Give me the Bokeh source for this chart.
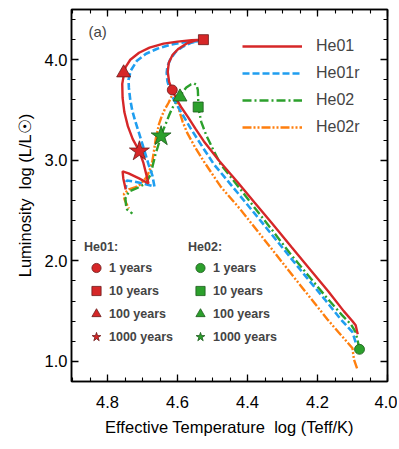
from bokeh.plotting import figure
from bokeh.models import (Range1d, LinearAxis, FixedTicker, Legend, LegendItem,
                          Label, PrintfTickFormatter, CustomLabelingPolicy)
from bokeh.embed import file_html
from bokeh.resources import INLINE

# ---------------- data (log Teff, log L) ----------------
he01_logT = [4.085, 4.091, 4.10, 4.125, 4.17, 4.22, 4.275, 4.329, 4.38, 4.43, 4.48,
             4.525, 4.548, 4.57, 4.588, 4.603, 4.615, 4.624, 4.628, 4.625, 4.614,
             4.597, 4.575, 4.55, 4.526, 4.56, 4.60, 4.64, 4.68, 4.71, 4.735, 4.748,
             4.753, 4.758, 4.757, 4.752, 4.742, 4.728, 4.709, 4.698, 4.69, 4.683,
             4.71, 4.74, 4.757, 4.755, 4.748]
he01_logL = [1.27, 1.36, 1.40, 1.50, 1.70, 1.91, 2.14, 2.37, 2.58, 2.79, 2.99,
             3.19, 3.31, 3.43, 3.52, 3.61, 3.70, 3.78, 3.88, 3.97, 4.05,
             4.11, 4.16, 4.19, 4.20, 4.195, 4.18, 4.16, 4.12, 4.07, 4.00, 3.93,
             3.86, 3.76, 3.62, 3.48, 3.34, 3.21, 3.09, 2.98, 2.87, 2.77,
             2.82, 2.87, 2.89, 2.82, 2.71]

he01r_logT = [4.091, 4.10, 4.134, 4.18, 4.23, 4.30, 4.363, 4.429, 4.496, 4.53, 4.563,
              4.59, 4.61, 4.622, 4.629, 4.631, 4.629, 4.62, 4.605, 4.585, 4.56, 4.542,
              4.58, 4.62, 4.658, 4.69, 4.716, 4.734, 4.74, 4.739, 4.735, 4.729, 4.72,
              4.71, 4.695, 4.683, 4.672, 4.666, 4.70, 4.725, 4.745, 4.748]
he01r_logL = [1.19, 1.29, 1.42, 1.62, 1.83, 2.13, 2.40, 2.68, 2.96, 3.14, 3.32,
              3.48, 3.60, 3.70, 3.79, 3.87, 3.93, 4.01, 4.08, 4.13, 4.17, 4.185,
              4.175, 4.15, 4.11, 4.06, 3.99, 3.89, 3.80, 3.72, 3.60, 3.49, 3.38,
              3.27, 3.10, 2.96, 2.85, 2.74, 2.77, 2.79, 2.80, 2.72]

he02_logT = [4.08, 4.085, 4.091, 4.105, 4.13, 4.18, 4.23, 4.28, 4.326, 4.36, 4.40,
             4.44, 4.477, 4.50, 4.518, 4.532, 4.541, 4.541, 4.542, 4.546, 4.553,
             4.562, 4.575, 4.587, 4.593, 4.605, 4.615, 4.625, 4.634, 4.641, 4.647,
             4.655, 4.663, 4.67, 4.677, 4.686, 4.696, 4.718, 4.739, 4.749, 4.747,
             4.744, 4.729]
he02_logL = [1.12, 1.20, 1.29, 1.37, 1.46, 1.66, 1.87, 2.08, 2.29, 2.44, 2.62,
             2.80, 2.96, 3.12, 3.25, 3.38, 3.53, 3.62, 3.70, 3.75, 3.765,
             3.755, 3.725, 3.67, 3.63, 3.575, 3.52, 3.44, 3.36, 3.30, 3.24,
             3.15, 3.06, 2.96, 2.86, 2.80, 2.76, 2.72, 2.69, 2.62, 2.55,
             2.51, 2.47]

he02r_logT = [4.087, 4.096, 4.10, 4.115, 4.14, 4.172, 4.22, 4.268, 4.32, 4.37, 4.42,
              4.477, 4.525, 4.55, 4.572, 4.585, 4.594, 4.60, 4.605, 4.611,
              4.618, 4.626, 4.636, 4.645, 4.653, 4.658, 4.662, 4.667, 4.672, 4.68,
              4.687, 4.706, 4.722, 4.739, 4.753, 4.752, 4.749, 4.739]
he02r_logL = [0.93, 1.02, 1.13, 1.19, 1.29, 1.42, 1.63, 1.84, 2.07, 2.29, 2.51,
              2.74, 2.99, 3.13, 3.27, 3.38, 3.48, 3.57, 3.64, 3.665,
              3.63, 3.57, 3.51, 3.44, 3.36, 3.28, 3.22, 3.10, 2.99, 2.90,
              2.84, 2.76, 2.73, 2.71, 2.67, 2.62, 2.59, 2.52]

ages = ["1 years", "10 years", "100 years", "1000 years"]
he01_mark_logT = [4.615, 4.526, 4.754, 4.709]
he01_mark_logL = [3.70, 4.20, 3.87, 3.09]
he02_mark_logT = [4.080, 4.541, 4.593, 4.647]
he02_mark_logL = [1.12, 3.53, 3.63, 3.24]

series_names = ["He01", "He01r", "He02", "He02r"]

x_major = [4.0, 4.2, 4.4, 4.6, 4.8]
x_minor = [round(4.0 + 0.05 * i, 2) for i in range(19)]
y_major = [1.0, 2.0, 3.0, 4.0]
y_minor = [round(0.8 + 0.2 * i, 1) for i in range(19)]

x_title = "Effective Temperature\u00a0\u00a0log (Teff/K)"
y_title = "Luminosity\u00a0\u00a0log (L/L\u2609)"

# ---------------- styles ----------------
RED, BLUE, GREEN, ORANGE = "#d62728", "#1f9ef0", "#2ca02c", "#ff7f0e"
FONT = "Liberation Sans"

p = figure(frame_width=316, frame_height=372,
           x_range=Range1d(4.903, 4.0), y_range=Range1d(0.8, 4.5),
           output_backend="svg", toolbar_location=None,
           min_border_left=71, min_border_right=10, min_border_top=9, min_border_bottom=66)
p.xgrid.visible = False
p.ygrid.visible = False
p.outline_line_color = "black"
p.outline_line_width = 1.5
p.background_fill_color = "white"

bottom_ax = p.below[0]
left_ax = p.left[0]

xt = FixedTicker(ticks=x_major, minor_ticks=x_minor)
yt = FixedTicker(ticks=y_major, minor_ticks=y_minor)
bottom_ax.ticker = xt
left_ax.ticker = yt
bottom_ax.formatter = PrintfTickFormatter(format="%.1f")
left_ax.formatter = PrintfTickFormatter(format="%.1f")

hide_all = CustomLabelingPolicy(code="""
const ids = Array.from(indices)
for (const i of ids) indices.unset(i)
return indices
""")
top_ax = LinearAxis(ticker=xt, major_label_policy=hide_all)
right_ax = LinearAxis(ticker=yt, major_label_policy=hide_all)
p.add_layout(top_ax, "above")
p.add_layout(right_ax, "right")

for ax in [bottom_ax, left_ax, top_ax, right_ax]:
    ax.major_tick_in = 7
    ax.major_tick_out = 0
    ax.minor_tick_in = 4
    ax.minor_tick_out = 0
    ax.axis_line_color = "black"
    ax.axis_line_width = 1.5
    ax.major_tick_line_width = 1.3
    ax.minor_tick_line_width = 1.1
    ax.major_label_text_font = FONT
    ax.major_label_text_font_size = "16.5px"
    ax.major_label_text_color = "black"
    ax.axis_label_text_font = FONT
    ax.axis_label_text_font_size = "16.5px"
    ax.axis_label_text_font_style = "normal"
    ax.axis_label_text_color = "black"
for ax in [top_ax, right_ax]:
    ax.major_label_text_font_size = "0px"
    ax.major_label_standoff = 0
bottom_ax.major_label_standoff = 14
left_ax.major_label_standoff = 4
bottom_ax.axis_label = x_title
left_ax.axis_label = y_title
bottom_ax.axis_label_standoff = 7
left_ax.axis_label_standoff = 8

# ---------------- tracks ----------------
r_he02r = p.line(he02r_logT, he02r_logL, color=ORANGE, line_width=2.4, line_dash="9 2 2 2 2 2")
r_he02 = p.line(he02_logT, he02_logL, color=GREEN, line_width=2.4, line_dash="9 3 2 3")
r_he01r = p.line(he01r_logT, he01r_logL, color=BLUE, line_width=2.6, line_dash="7 3")
r_he01 = p.line(he01_logT, he01_logL, color=RED, line_width=2.4)

markers = ["circle", "square", "triangle", "star"]
msizes = [10, 10, 14, 21]
he01_r, he02_r = [], []
for i in range(4):
    he01_r.append(p.scatter([he01_mark_logT[i]], [he01_mark_logL[i]], marker=markers[i],
                            size=msizes[i], fill_color=RED, line_color="#6b1a1a", line_width=0.8))
    he02_r.append(p.scatter([he02_mark_logT[i]], [he02_mark_logL[i]], marker=markers[i],
                            size=msizes[i], fill_color=GREEN, line_color="#1d5a1d", line_width=0.8))

# ---------------- legends ----------------
leg = Legend(items=[LegendItem(label=n, renderers=[r]) for n, r in
                    zip(series_names, [r_he01, r_he01r, r_he02, r_he02r])],
             location=(171, 244), glyph_width=60, glyph_height=20, label_height=20,
             spacing=7, padding=0, margin=0, label_standoff=14,
             border_line_color=None, background_fill_alpha=0,
             label_text_font=FONT, label_text_font_size="16px")
p.add_layout(leg, "center")

for title, rs, loc in [("He01:", he01_r, (13, 33)), ("He02:", he02_r, (117, 33))]:
    lg = Legend(items=[LegendItem(label=a, renderers=[r]) for a, r in zip(ages, rs)],
                title=title, location=loc, glyph_width=24, glyph_height=23, label_height=23,
                spacing=0, padding=0, margin=0, label_standoff=1,
                border_line_color=None, background_fill_alpha=0,
                title_text_font=FONT, title_text_font_style="bold", title_text_font_size="12.5px",
                title_standoff=2, label_text_font=FONT, label_text_font_style="bold",
                label_text_font_size="12.5px")
    p.add_layout(lg, "center")

# ---------------- texts ----------------
p.add_layout(Label(x=17, y=350, x_units="screen", y_units="screen", text="(a)",
                   text_font=FONT, text_font_size="15px", text_baseline="alphabetic"))

open("out.html", "w").write(file_html(p, INLINE))
